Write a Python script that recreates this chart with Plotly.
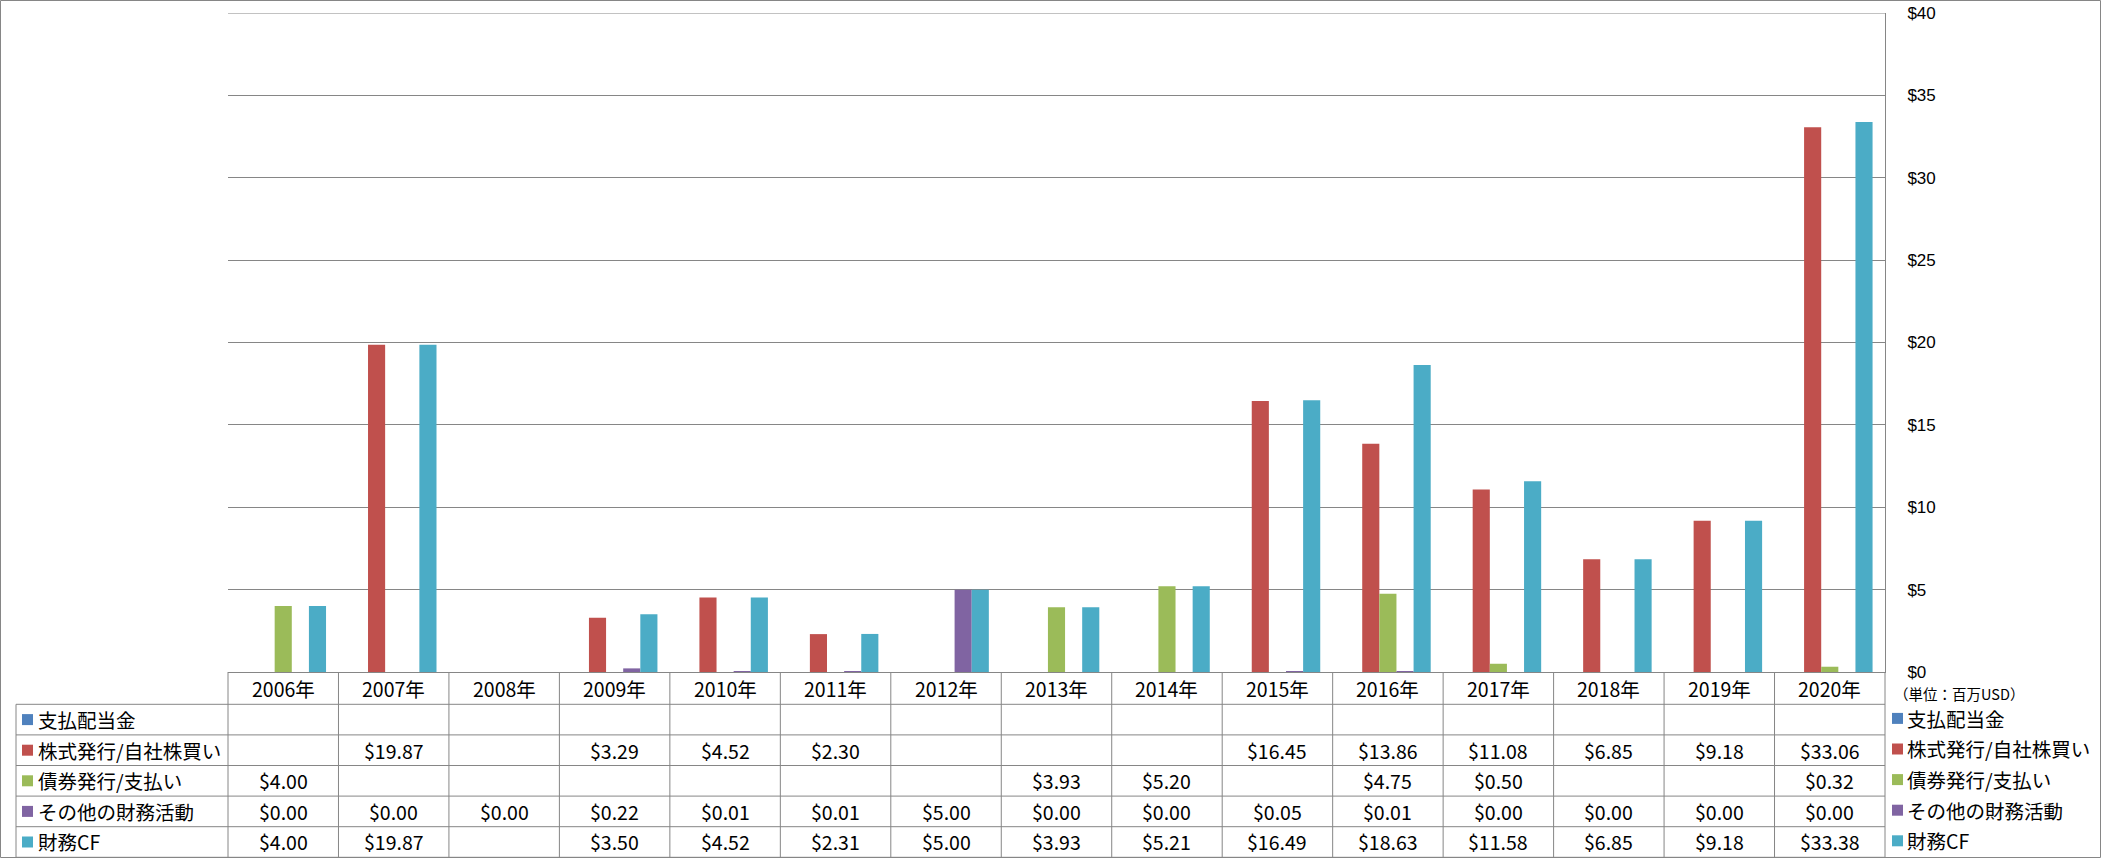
import plotly.graph_objects as go

# ---------------- data ----------------
categories = ["2006年", "2007年", "2008年", "2009年", "2010年", "2011年", "2012年", "2013年",
              "2014年", "2015年", "2016年", "2017年", "2018年", "2019年", "2020年"]

dividends = [None, None, None, None, None, None, None, None, None, None, None, None, None, None, None]
stock_issue = [None, 19.87, None, 3.29, 4.52, 2.30, None, None, None, 16.45, 13.86, 11.08, 6.85, 9.18, 33.06]
debt_issue = [4.00, None, None, None, None, None, None, 3.93, 5.20, None, 4.75, 0.50, None, None, 0.32]
other_fin = [0.00, 0.00, 0.00, 0.22, 0.01, 0.01, 5.00, 0.00, 0.00, 0.05, 0.01, 0.00, 0.00, 0.00, 0.00]
financing_cf = [4.00, 19.87, None, 3.50, 4.52, 2.31, 5.00, 3.93, 5.21, 16.49, 18.63, 11.58, 6.85, 9.18, 33.38]

series_names = ["支払配当金", "株式発行/自社株買い", "債券発行/支払い", "その他の財務活動", "財務CF"]
series_values = [dividends, stock_issue, debt_issue, other_fin, financing_cf]
series_colors = ["#4F81BD", "#C0504D", "#9BBB59", "#8064A2", "#4BACC6"]

y_tickvals = [0, 5, 10, 15, 20, 25, 30, 35, 40]
y_ticktext = ["$0", "$5", "$10", "$15", "$20", "$25", "$30", "$35", "$40"]
unit_label = "（単位：百万USD）"

# ---------------- layout constants ----------------
W, H = 2101, 858
L, R, T, B = 228, 216, 13, 186
PW = W - L - R
PH = H - T - B
GRID = "#868686"
FONT = "Noto Sans CJK JP"
TICK_FONT = "Liberation Sans"
FS = 19.5


def xp(px):
    return (px - L) / PW


def yp(py):
    return (T + PH - py) / PH


HEADER_H = 32.3
ROW_H = 30.6
table_top = T + PH
row_tops = [table_top + HEADER_H + i * ROW_H for i in range(len(series_names))]
table_bottom = row_tops[-1] + ROW_H

fig = go.Figure()
for name, vals, col in zip(series_names, series_values, series_colors):
    fig.add_trace(go.Bar(x=categories, y=vals, name=name, marker_color=col,
                         marker_line_width=0, showlegend=False))

shapes = []
annotations = []

# table horizontal lines
for ytop in row_tops + [table_bottom]:
    shapes.append(dict(type="line", xref="paper", yref="paper", x0=xp(16), x1=1,
                       y0=yp(ytop), y1=yp(ytop), line=dict(color=GRID, width=1)))
# table vertical lines
n = len(categories)
for i in range(n + 1):
    if i == 0:
        xr, xv = "paper", 0
    elif i == n:
        xr, xv = "paper", 1
    else:
        xr, xv = "x", i - 0.5
    shapes.append(dict(type="line", xref=xr, yref="paper", x0=xv, x1=xv,
                       y0=yp(table_top), y1=yp(table_bottom), line=dict(color=GRID, width=1)))
shapes.append(dict(type="line", xref="paper", yref="paper", x0=xp(16), x1=xp(16),
                   y0=yp(row_tops[0]), y1=yp(table_bottom), line=dict(color=GRID, width=1)))

# top gridline of plot area ($40)
shapes.append(dict(type="line", xref="paper", yref="y", x0=0, x1=1,
                   y0=y_tickvals[-1], y1=y_tickvals[-1], line=dict(color=GRID, width=1)))

# header labels
for c in categories:
    annotations.append(dict(xref="x", yref="paper", x=c, y=yp(table_top + HEADER_H / 2),
                            text=c, showarrow=False, xanchor="center", yanchor="middle",
                            font=dict(family=FONT, size=FS, color="#000000")))

# rows
for r, (name, vals, col) in enumerate(zip(series_names, series_values, series_colors)):
    yc = row_tops[r] + ROW_H / 2
    # legend key in table
    shapes.append(dict(type="rect", xref="paper", yref="paper", x0=xp(22), x1=xp(33),
                       y0=yp(yc - 5.5), y1=yp(yc + 5.5), fillcolor=col, line=dict(width=0)))
    annotations.append(dict(xref="paper", yref="paper", x=xp(36), y=yp(yc), text=name,
                            showarrow=False, xanchor="left", yanchor="middle",
                            font=dict(family=FONT, size=FS, color="#000000")))
    for c, v in zip(categories, vals):
        if v is None:
            continue
        annotations.append(dict(xref="x", yref="paper", x=c, y=yp(yc), text=f"${v:.2f}",
                                showarrow=False, xanchor="center", yanchor="middle",
                                font=dict(family=FONT, size=FS, color="#000000")))
    # right legend
    yl = yc - 1.2
    shapes.append(dict(type="rect", xref="paper", yref="paper", x0=xp(1892), x1=xp(1903),
                       y0=yp(yl - 5.5), y1=yp(yl + 5.5), fillcolor=col, line=dict(width=0)))
    annotations.append(dict(xref="paper", yref="paper", x=xp(1905), y=yp(yl), text=name,
                            showarrow=False, xanchor="left", yanchor="middle",
                            font=dict(family=FONT, size=FS, color="#000000")))

# unit label
annotations.append(dict(xref="paper", yref="paper", x=xp(1892), y=yp(693), text=unit_label,
                        showarrow=False, xanchor="left", yanchor="middle",
                        font=dict(family=FONT, size=14.5, color="#000000")))

# outer border
shapes.append(dict(type="rect", xref="paper", yref="paper", x0=xp(0.5), x1=xp(W - 0.5),
                   y0=yp(H - 0.5), y1=yp(0.5), line=dict(color=GRID, width=1),
                   fillcolor="rgba(0,0,0,0)", layer="above"))

fig.update_layout(
    width=W, height=H,
    margin=dict(l=L, r=R, t=T, b=B, pad=0, autoexpand=False),
    paper_bgcolor="white", plot_bgcolor="white",
    barmode="group", bargap=0.225, bargroupgap=0,
    shapes=shapes, annotations=annotations,
    font=dict(family=FONT, size=FS, color="#000000"),
    xaxis=dict(range=[-0.5, n - 0.5], showticklabels=False, showgrid=False,
               showline=True, linecolor=GRID, linewidth=1, ticks="", zeroline=False,
               fixedrange=True, automargin=False),
    yaxis=dict(side="right", range=[0, 40], tickvals=y_tickvals, ticktext=y_ticktext,
               showgrid=True, gridcolor=GRID, gridwidth=1, showline=True, linecolor=GRID,
               linewidth=1, ticks="", zeroline=False, ticklabelstandoff=18,
               ticklabeloverflow="allow", automargin=False,
               tickfont=dict(family=TICK_FONT, size=17, color="#000000")),
)

fig.write_html("out.html")
